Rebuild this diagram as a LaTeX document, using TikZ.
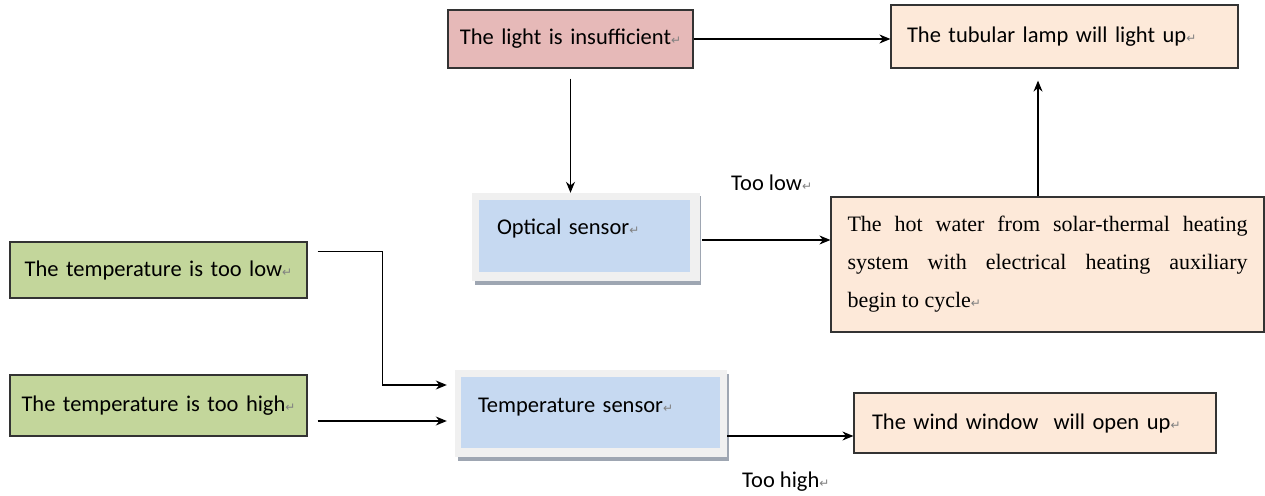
\documentclass[tikz,border=0pt]{standalone}
\usepackage{fontspec}
\setmainfont{Carlito}
\newfontfamily\tnrfont{Liberation Serif}
\newfontfamily\symfont{DejaVu Sans}
\usetikzlibrary{arrows.meta,calc}
\definecolor{pinkfill}{HTML}{E6B9B8}
\definecolor{peachfill}{HTML}{FDE9D9}
\definecolor{greenfill}{HTML}{C3D69B}
\definecolor{bluefill}{HTML}{C6D9F1}
\definecolor{framefill}{HTML}{F0F0F0}
\definecolor{shadowfill}{HTML}{9EA6B2}
\definecolor{edgecol}{HTML}{333333}
\newcommand\retmark{{\symfont\fontsize{12}{12}\selectfont\textcolor{gray}{↵}}}
\tikzset{
  txt/.style={font=\fontsize{22.5}{26}\selectfont},
  plainbox/.style={draw=edgecol, line width=1.2pt, inner sep=0pt, txt},
  sensorframe/.style={fill=framefill, inner sep=0pt},
  sensorinner/.style={fill=bluefill, inner sep=0pt, txt},
  arr/.style={line width=1.2pt, -{Stealth[length=11pt,width=9pt]}},
  lbl/.style={txt, inner sep=0pt, anchor=west},
}
\begin{document}
\begin{tikzpicture}[x=1pt,y=-1pt]
\useasboundingbox (0,0) rectangle (1265,495);
% top boxes
\node[plainbox, fill=pinkfill, minimum width=245pt, minimum height=58pt, text width=225pt, align=center]
  (light) at (570.5,39) {The light is insufficient\retmark};
\node[plainbox, fill=peachfill, minimum width=347pt, minimum height=63pt, text width=315pt, align=left]
  (lamp) at (1064.5,36.5) {The tubular lamp will light up\retmark};
% optical sensor
\fill[shadowfill] (475,196) rectangle (701,285);
\node[sensorframe, minimum width=228pt, minimum height=88pt] (optframe) at (586,237) {};
\node[sensorinner, minimum width=211pt, minimum height=72pt, text width=175pt, align=left,
  text height=16pt, text depth=20pt]
  (optical) at (584.5,236) {Optical sensor\retmark};
% hot water box
\node[plainbox, fill=peachfill, minimum width=433pt, minimum height=135pt, text width=400pt, align=justify,
  font=\tnrfont\fontsize{22}{38}\selectfont]
  (hot) at (1047.5,264.5) {The hot water from solar-thermal heating\linebreak system with electrical heating auxiliary\linebreak begin to cycle\retmark};
% temperature boxes
\node[plainbox, fill=greenfill, minimum width=297pt, minimum height=56pt, text width=280pt, align=center]
  (low) at (158.5,270) {The temperature is too low\retmark};
\node[plainbox, fill=greenfill, minimum width=297pt, minimum height=61pt, text width=280pt, align=center]
  (high) at (158.5,405.5) {The temperature is too high\retmark};
% temperature sensor
\fill[shadowfill] (458,374) rectangle (729,461);
\node[sensorframe, minimum width=272pt, minimum height=87pt] (tframe) at (591,413.5) {};
\node[sensorinner, minimum width=259pt, minimum height=71pt, text width=225pt, align=left,
  text height=16pt, text depth=17pt]
  (tsensor) at (590.5,412.5) {Temperature sensor\retmark};
% wind window
\node[plainbox, fill=peachfill, minimum width=362pt, minimum height=60pt, text width=326pt, align=left]
  (wind) at (1035,423) {The wind window\ \ will open up\retmark};
% labels
\node[lbl] (toolow) at (731,183) {Too low\retmark};
\node[lbl] (toohigh) at (742,482) {Too high\retmark};
% connector end points
\coordinate (optout) at ($(optframe.east)+(2,3)$);
\coordinate (hotup) at ($(hot.north)+(-9.5,0)$);
\coordinate (lowout) at ($(low.north east)+(10,10)$);
\coordinate (lowin) at ($(tframe.west)+(-8,-28.5)$);
\coordinate (highout) at ($(high.east)+(10,15.5)$);
\coordinate (tout) at ($(tframe.east)+(0,22.5)$);
% connectors
\draw[arr] (light.east) -- (light.east -| lamp.west);
\draw[arr, shorten <=10pt] (light.south) -- (light.south |- optframe.north);
\draw[arr] (optout) -- (optout -| hot.west);
\draw[arr, shorten >=12pt] (hotup) -- (hotup |- lamp.south);
\draw[arr] (lowout) -- ++(65,0) |- (lowin);
\draw[arr, shorten >=8pt] (highout) -- (highout -| tframe.west);
\draw[arr] (tout) -- (tout -| wind.west);
\end{tikzpicture}
\end{document}
